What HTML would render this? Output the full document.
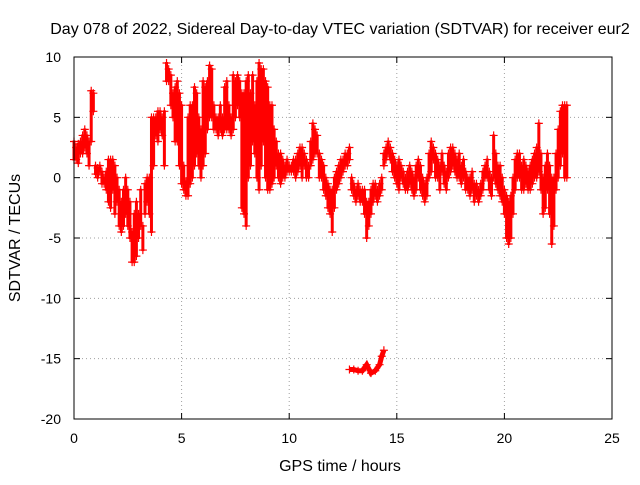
<!DOCTYPE html>
<html><head><meta charset="utf-8"><style>
body{margin:0;background:#fff;}
svg text{font-family:"Liberation Sans",sans-serif;font-size:14px;fill:#000;}
svg text.big{font-size:16px;}
</style></head><body>
<svg id="chart" width="640" height="480" viewBox="0 0 640 480" xmlns="http://www.w3.org/2000/svg">
<rect width="640" height="480" fill="#fff"/>
<g id="grid"></g>
<g id="marks"></g>
<rect x="74" y="57" width="538" height="362" fill="none" stroke="#000" stroke-width="1"/>
<g id="ticks"></g>
<text class="big" x="340" y="34" text-anchor="middle">Day 078 of 2022, Sidereal Day-to-day VTEC variation (SDTVAR) for receiver eur2</text>
<text class="big" x="340" y="471" text-anchor="middle">GPS time / hours</text>
<text class="big" transform="translate(20,238) rotate(-90)" text-anchor="middle">SDTVAR / TECUs</text>
</svg>
<script>
const xTicks=[0,5,10,15,20,25];
const yTicks=[10,5,0,-5,-10,-15,-20];
const lows=[1.5,1.5,1.2,2,2,2.5,2,1,3,5.5,0.3,0,0.5,-0.5,-0.5,-1,-2,-2.5,-1,-3,-2,-4,-4.5,-4,-3,-4,-5,-7,-7,-6.5,-5,-4,-6,-3,-2,-3,-4.5,1,3.5,3,4,3.5,1,8,8,6,5,3,3,1,-0.5,-1,-1.5,-1.5,-0.5,0,1,2,1,0,1,2,4,5,5,4,4,3.5,4,3.5,4,4,4,3.5,4,5,6,5,-2.5,-3,-4,0,1,3,2,0,-1,1,3,0,-1,-1,-0.5,0,1,0,-0.5,0,0,0.5,0.5,0.5,0.5,0,0.5,1,0,1,0,0,1,1.5,2,2,0,0,-1,-1.5,-2.5,-3,-4.5,-2.5,-1,-0.5,0,0.5,1,1,1.5,-1,-1.5,-2,-1.5,-2,-2,-3,-5,-4,-3,-2,-1.5,-2,-1.5,-1,1,1.5,2,1.5,0.5,0,-0.5,-1,0,-0.5,-1,-1,-0.5,-1,-1.5,-1,0,-1,-1.5,-2,-1.5,0,0.5,1.5,0,0,-1,0.5,-0.5,-1,0,0.5,1,0.5,0,0,-0.5,0,-1,-1,-1.5,-1,-2,-1.5,-2,-1.5,-1,0,0,-1,-1.5,0,-0.5,-1,-1.5,-2,-3,-5,-5.5,-5,-3,-1,0,0,-1,-1,-0.5,-1,-1,-0.5,0,0,0.5,-1,-3,-2.5,-1,-3,-5.5,-4,-1,0,1,2,0,0];
const highs=[3,2.5,2.8,3,3.5,4,3.5,3,7.2,7,1,0.8,1,0.5,0,0.5,1.5,1.5,1.5,1,0,-1,-2,-1,0,-1,-2,-4.5,-3,-2,-3,-1,-4,-0.5,0,0,5,5,5,5.5,5.5,5,5.5,9.5,9,8.5,7,7.5,8,7,6,1,-0.3,5,6,6,7.5,7,5,4,8,7.5,8,9.3,9,6,5,5,6,5,7.5,8,6,5,8.5,8,8.5,8,7,7,8,8.5,7,8.5,6,8,9.5,9,9,8,7.5,6,6,4,3,2,2,1.5,1,1.5,1,1,1.5,1.5,2,2.5,2.5,2,1.5,1,3,4.5,4,3.5,2,1.5,1,0,-0.5,-1,-1,0,0.5,1,1.5,1.5,2,2,2.5,0,-0.5,-1,-0.5,-1,-1,-1,-2,-2,-1,-0.5,-0.5,-1,-0.5,0,2,2.5,3,2.5,2,1.5,1,1.5,1,0.5,0,0.5,1,0.5,0,1,1.5,1,0,-0.5,0,2,3,2.5,2,1.5,1,2,1,0.5,2,2.5,2.5,2,1.5,2,1,1.5,0.5,0,0,0.5,-0.5,-0.5,-1,-0.5,0.5,1,1.5,0.5,0,3.5,2,1,1,0,-1,-1.5,-2,-1.5,0,1.5,2,2,1,1.5,1,0.5,1,1.5,2,2.5,4.5,2,0,1,2,1,0,0,2,4,5.5,6,6,6];
const tStart=0, tStep=0.1;
const segTimes=[12.8,13.0,13.2,13.4,13.6,13.8,14.0,14.2,14.3,14.4];
const segValues=[-15.9,-15.9,-16,-16,-15.5,-16.2,-16,-15.5,-14.8,-14.3];
const L=74,R=612,T=57,B=419;
const xs=v=>L+(v-0)/(25-0)*(R-L);
const ys=v=>T+(10-v)/(10-(-20))*(B-T);
const NS='http://www.w3.org/2000/svg';
function mk(tag,attrs,parent){const e=document.createElementNS(NS,tag);for(const k in attrs)e.setAttribute(k,attrs[k]);parent.appendChild(e);return e;}
const grid=document.getElementById('grid'),ticks=document.getElementById('ticks'),marks=document.getElementById('marks');
xTicks.forEach(v=>{const x=xs(v);
 if(v>0&&v<25){const g=mk('line',{x1:x,x2:x,y1:T,y2:B,stroke:'#a0a0a0','stroke-dasharray':'1,3'},grid);
 
 }
 mk('line',{x1:x,x2:x,y1:B,y2:B-6,stroke:'#000'},ticks);mk('line',{x1:x,x2:x,y1:T,y2:T+6,stroke:'#000'},ticks);
 const t=mk('text',{x:x,y:B+24,'text-anchor':'middle'},ticks);t.textContent=v;
 
 });
yTicks.forEach(v=>{const y=ys(v);
 if(v<10&&v>-20){const g=mk('line',{x1:L,x2:R,y1:y,y2:y,stroke:'#a0a0a0','stroke-dasharray':'1,3'},grid);
 
 }
 mk('line',{x1:L,x2:L+6,y1:y,y2:y,stroke:'#000'},ticks);mk('line',{x1:R,x2:R-6,y1:y,y2:y,stroke:'#000'},ticks);
 const t=mk('text',{x:L-13,y:y+5,'text-anchor':'end'},ticks);t.textContent=v;
 
 });
function plus(x,y,name){const p=mk('path',{d:`M${x-4},${y}H${x+4}M${x},${y-4}V${y+4}`,stroke:'#f00','stroke-width':1.2},marks);
 
 }
lows.forEach((lo,i)=>{const t=tStart+i*tStep,x=xs(t);
 const ln=mk('line',{x1:x,x2:x,y1:ys(lo)+1,y2:ys(highs[i])-1,stroke:'#f00','stroke-width':3},marks);
 
 
 plus(x,ys(lo),'sdtvar-point');plus(x,ys(highs[i]),'sdtvar-point');});
let d='';segTimes.forEach((t,i)=>{d+=(i?'L':'M')+xs(t)+','+ys(segValues[i]);});
const sp=mk('path',{d:d,stroke:'#f00','stroke-width':5,fill:'none'},marks);


segTimes.forEach((t,i)=>plus(xs(t),ys(segValues[i]),'sdtvar-outlier-point'));
</script>
</body></html>
